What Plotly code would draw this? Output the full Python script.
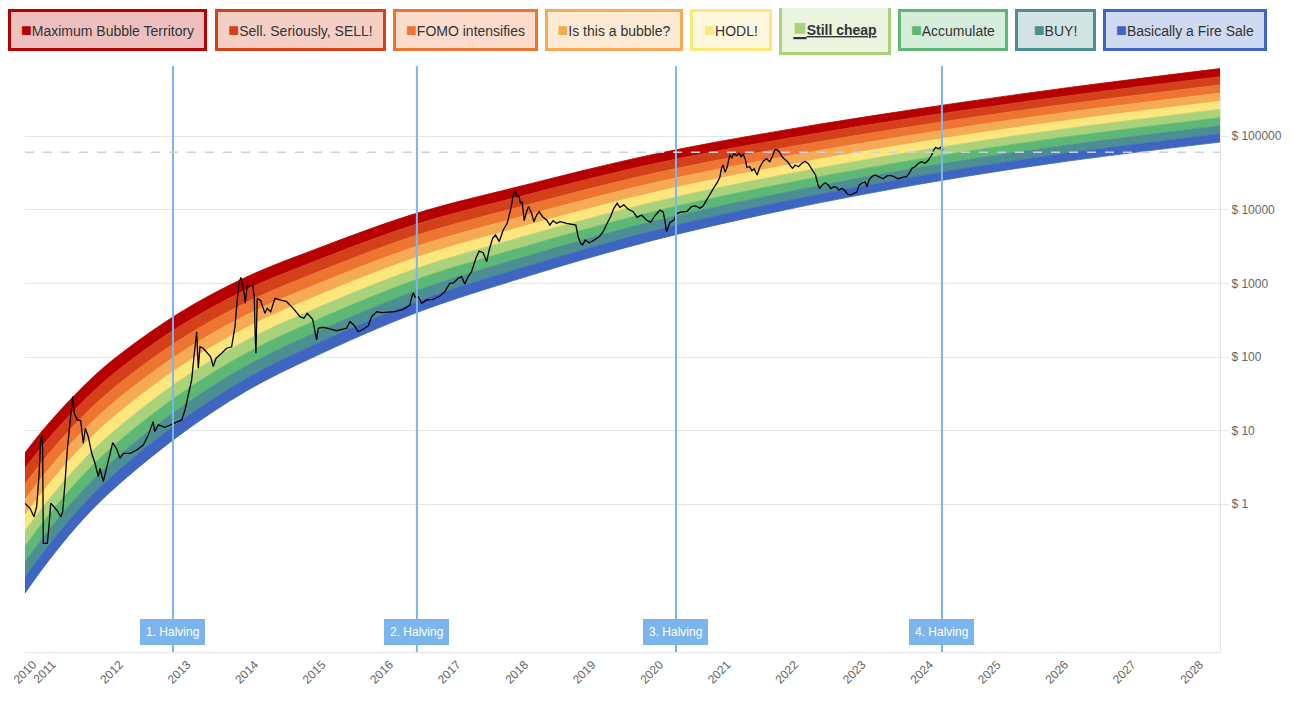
import plotly.graph_objects as go

# ---------------- data ----------------
band_years = [2010.715, 2011.0, 2011.5, 2012.0, 2013.0, 2014.0, 2015.0, 2016.5,
              2018.0, 2020.0, 2022.0, 2024.0, 2026.0, 2028.417]
band_edge_0 = [5.01, 10.7, 33.9, 89.1, 398, 1230, 2880, 8910, 20400, 56200, 123000, 240000, 437000, 832000]
band_edge_1 = [3.08, 6.64, 21.3, 56.8, 260, 828, 1990, 6310, 14800, 41700, 93100, 185000, 338000, 644000]
band_edge_2 = [1.89, 4.10, 13.4, 36.1, 170, 557, 1370, 4470, 10700, 30900, 70500, 142000, 262000, 499000]
band_edge_3 = [1.16, 2.54, 8.45, 23.0, 111, 375, 944, 3160, 7780, 23000, 53500, 109000, 203000, 386000]
band_edge_4 = [0.711, 1.57, 5.32, 14.6, 72.4, 252, 652, 2230, 5640, 17000, 40500, 84000, 157000, 299000]
band_edge_5 = [0.436, 0.973, 3.35, 9.31, 47.4, 170, 449, 1580, 4090, 12600, 30600, 64600, 122000, 232000]
band_edge_6 = [0.267, 0.603, 2.10, 5.93, 31.0, 114, 309, 1120, 2960, 9350, 23200, 49700, 94200, 179000]
band_edge_7 = [0.164, 0.373, 1.32, 3.78, 20.2, 76.7, 213, 792, 2150, 6930, 17500, 38200, 72900, 139000]
band_edge_8 = [0.101, 0.231, 0.834, 2.40, 13.2, 51.6, 147, 560, 1560, 5150, 13300, 29400, 56500, 108000]
band_edge_9 = [0.0618, 0.143, 0.525, 1.53, 8.63, 34.8, 101, 396, 1130, 3820, 10100, 22600, 43800, 83400]

band_names = ["Maximum Bubble Territory", "Sell. Seriously, SELL!", "FOMO intensifies",
              "Is this a bubble?", "HODL!", "Still cheap", "Accumulate", "BUY!",
              "Basically a Fire Sale"]
band_colors = ["#b70000", "#d3401a", "#ee7432", "#f5aa53", "#fde67c",
               "#aad27a", "#5cb874", "#4b8f93", "#3e66c0"]
band_fills = ["rgba(183,0,0,0.25)", "rgba(211,64,26,0.25)", "rgba(238,116,50,0.25)",
              "rgba(245,170,83,0.25)", "rgba(253,230,124,0.25)", "rgba(170,210,122,0.25)",
              "rgba(92,184,116,0.25)", "rgba(75,143,147,0.25)", "rgba(62,102,192,0.25)"]

price_years = [
    2010.715, 2010.789, 2010.848, 2010.888, 2010.922, 2010.948, 2010.967, 2010.977, 2010.986, 2011.045,
    2011.066, 2011.096, 2011.134, 2011.193, 2011.244, 2011.273, 2011.307, 2011.341, 2011.381, 2011.421,
    2011.445, 2011.490, 2011.540, 2011.578, 2011.608, 2011.652, 2011.703, 2011.752, 2011.801, 2011.826,
    2011.875, 2011.949, 2012.014, 2012.073, 2012.122, 2012.171, 2012.270, 2012.369, 2012.467, 2012.541,
    2012.615, 2012.636, 2012.689, 2012.788, 2012.873, 2012.962, 2013.036, 2013.085, 2013.133, 2013.184,
    2013.218, 2013.258, 2013.282, 2013.307, 2013.356, 2013.415, 2013.465, 2013.504, 2013.544, 2013.628,
    2013.702, 2013.776, 2013.825, 2013.859, 2013.889, 2013.914, 2013.958, 2013.978, 2014.007, 2014.087,
    2014.111, 2014.126, 2014.136, 2014.155, 2014.206, 2014.269, 2014.303, 2014.354, 2014.417, 2014.491,
    2014.591, 2014.689, 2014.788, 2014.847, 2014.896, 2014.976, 2015.035, 2015.059, 2015.133, 2015.232,
    2015.331, 2015.479, 2015.528, 2015.587, 2015.651, 2015.725, 2015.799, 2015.850, 2015.924, 2015.998,
    2016.081, 2016.195, 2016.318, 2016.417, 2016.446, 2016.466, 2016.495, 2016.540, 2016.590, 2016.664,
    2016.762, 2016.861, 2016.935, 2017.009, 2017.058, 2017.132, 2017.182, 2017.231, 2017.280, 2017.330,
    2017.394, 2017.443, 2017.502, 2017.553, 2017.591, 2017.642, 2017.686, 2017.739, 2017.799, 2017.858,
    2017.913, 2017.947, 2017.972, 2017.997, 2018.031, 2018.056, 2018.080, 2018.110, 2018.145, 2018.175,
    2018.219, 2018.253, 2018.293, 2018.332, 2018.382, 2018.441, 2018.490, 2018.539, 2018.589, 2018.648,
    2018.737, 2018.875, 2018.909, 2018.945, 2018.974, 2019.013, 2019.072, 2019.132, 2019.220, 2019.280,
    2019.339, 2019.389, 2019.438, 2019.487, 2019.527, 2019.586, 2019.650, 2019.724, 2019.783, 2019.848,
    2019.922, 2019.982, 2020.045, 2020.119, 2020.168, 2020.193, 2020.218, 2020.267, 2020.326, 2020.375,
    2020.440, 2020.523, 2020.588, 2020.652, 2020.712, 2020.760, 2020.811, 2020.870, 2020.919, 2020.968,
    2021.008, 2021.033, 2021.057, 2021.086, 2021.116, 2021.141, 2021.160, 2021.185, 2021.215, 2021.255,
    2021.294, 2021.323, 2021.353, 2021.388, 2021.408, 2021.452, 2021.482, 2021.516, 2021.560, 2021.600,
    2021.649, 2021.699, 2021.748, 2021.788, 2021.822, 2021.862, 2021.896, 2021.936, 2021.975, 2022.015,
    2022.055, 2022.085, 2022.123, 2022.173, 2022.222, 2022.271, 2022.321, 2022.351, 2022.389, 2022.425,
    2022.463, 2022.488, 2022.528, 2022.573, 2022.617, 2022.651, 2022.696, 2022.736, 2022.770, 2022.819,
    2022.863, 2022.898, 2022.937, 2022.988, 2023.037, 2023.071, 2023.115, 2023.160, 2023.189, 2023.219,
    2023.259, 2023.308, 2023.367, 2023.426, 2023.486, 2023.536, 2023.585, 2023.649, 2023.714, 2023.773,
    2023.812, 2023.852, 2023.900, 2023.951, 2024.000, 2024.048, 2024.099, 2024.148, 2024.177, 2024.207,
    2024.247, 2024.277, 2024.296, 2024.315]
price_usd = [
    1.03, 0.882, 0.679, 0.928, 2.37, 7.88, 8.29, 5.47, 0.295, 0.295,
    0.447, 1.03, 0.948, 0.818, 0.679, 0.793, 1.93, 5.47, 12.6, 29.0,
    17.2, 14.0, 13.7, 6.74, 10.8, 8.29, 4.93, 3.61, 2.37, 3.08,
    2.03, 4.00, 6.87, 5.64, 4.22, 4.93, 4.93, 5.47, 6.39, 8.74,
    13.3, 9.69, 12.0, 11.1, 12.0, 12.8, 14.0, 19.1, 29.0, 48.9,
    101, 221, 70.4, 138, 132, 113, 101, 74.1, 96.3, 113,
    132, 138, 259, 597, 1060, 1210, 774, 538, 925, 954,
    662, 189, 113, 629, 584, 394, 460, 414, 629, 597,
    566, 460, 354, 337, 394, 326, 171, 246, 254, 241,
    228, 246, 303, 273, 221, 239, 265, 354, 414, 401,
    410, 414, 446, 510, 662, 750, 649, 662, 538, 597,
    610, 676, 774, 1010, 1010, 1180, 1240, 985, 1240, 1450,
    2200, 2760, 2620, 1980, 2850, 4110, 4560, 3700, 5330, 6580,
    10500, 15900, 18200, 15100, 15500, 12300, 12900, 7130, 9450, 11100,
    8990, 6920, 8520, 9450, 8080, 7290, 6230, 7130, 6580, 6920,
    6580, 6230, 4320, 3520, 3340, 3900, 3580, 3820, 4320, 5060,
    6580, 8080, 10500, 12300, 10800, 11700, 10200, 9450, 7930, 8520,
    7290, 6780, 8260, 9970, 9360, 7290, 5060, 6700, 7290, 8990,
    9360, 9570, 11100, 11300, 10500, 11300, 13600, 17100, 20000, 23400,
    27700, 36700, 40700, 32400, 37900, 48700, 55700, 50200, 58700, 54500,
    58700, 52800, 57500, 47600, 37900, 38600, 34100, 36300, 29800, 37900,
    45700, 49600, 45200, 54000, 65200, 65200, 59900, 51800, 47600, 44700,
    39500, 36700, 40700, 38600, 43000, 45700, 42000, 37900, 33000, 29800,
    21800, 19700, 22000, 23400, 21600, 19400, 20700, 20300, 18600, 19700,
    18200, 16400, 15900, 16800, 17500, 21600, 23200, 23900, 20700, 25500,
    28300, 29800, 28300, 26500, 28900, 29500, 28300, 26500, 27700, 28300,
    31400, 36700, 38600, 43000, 45200, 43000, 47600, 56200, 65200, 70900,
    67800, 70900, 63700, 66600]

halving_years = [2012.907, 2016.520, 2020.358, 2024.298]
halving_labels = ["1. Halving", "2. Halving", "3. Halving", "4. Halving"]
reference_price = 60600

year_tick_values = [2010.7155, 2011, 2012, 2013, 2014, 2015, 2016, 2017, 2018, 2019,
                    2020, 2021, 2022, 2023, 2024, 2025, 2026, 2027, 2028]
year_tick_labels = ["2010", "2011", "2012", "2013", "2014", "2015", "2016", "2017", "2018", "2019",
                    "2020", "2021", "2022", "2023", "2024", "2025", "2026", "2027", "2028"]
price_tick_values = [1, 10, 100, 1000, 10000, 100000]
price_tick_labels = ["$ 1", "$ 10", "$ 100", "$ 1000", "$ 10000", "$ 100000"]

# legend box geometry (page pixels)
legend_centers = [107.5, 300.5, 465.5, 614, 731, 835, 953, 1055.5, 1185]
legend_widths = [199, 171, 145, 138, 82, 112, 110, 81, 164]

# ---------------- layout geometry ----------------
BODY = 8                      # default page margin of the html body
PAGE_L, PAGE_R, PAGE_T, PAGE_B = 25, 1220, 66, 652   # plot area on the page
W, H = 1294 - BODY, 701 - 2 * BODY
ML = PAGE_L - BODY
MT = PAGE_T - BODY
PW = PAGE_R - PAGE_L
PH = PAGE_B - PAGE_T
MR = W - ML - PW
MB = H - MT - PH
FONT = "Liberation Sans, Arial, Helvetica, sans-serif"

edges = [band_edge_0, band_edge_1, band_edge_2, band_edge_3, band_edge_4,
         band_edge_5, band_edge_6, band_edge_7, band_edge_8, band_edge_9]

fig = go.Figure()
fig.add_trace(go.Scatter(x=band_years, y=edges[9], mode="lines",
                         line=dict(width=0.8, color=band_colors[8], shape="spline"),
                         hoverinfo="skip", showlegend=False))
for k in range(8, -1, -1):
    fig.add_trace(go.Scatter(x=band_years, y=edges[k], mode="lines", fill="tonexty",
                             fillcolor=band_colors[k],
                             line=dict(width=0.8, color=band_colors[k], shape="spline"),
                             name=band_names[k], hoverinfo="skip", showlegend=False))

fig.add_trace(go.Scatter(x=price_years, y=price_usd, mode="lines",
                         line=dict(color="#000000", width=1.3),
                         name="Price", showlegend=False))

shapes = []
for hy in halving_years:
    shapes.append(dict(type="line", xref="x", yref="paper", x0=hy, x1=hy, y0=0, y1=1,
                       line=dict(color="#7cb5ec", width=2), layer="above"))
shapes.append(dict(type="line", xref="paper", yref="y", x0=0, x1=1,
                   y0=reference_price, y1=reference_price,
                   line=dict(color="#c8cfe6", width=1.5, dash="dash"), layer="above"))

annotations = []
for hy, lab in zip(halving_years, halving_labels):
    annotations.append(dict(x=hy, xref="x", y=(PAGE_B - 632) / PH, yref="paper",
                            text=lab, showarrow=False,
                            font=dict(family=FONT, size=12, color="#ffffff"),
                            bgcolor="#7cb5ec", bordercolor="#7cb5ec", borderwidth=1,
                            borderpad=5, xanchor="center", yanchor="middle"))

for i, name in enumerate(band_names):
    c = band_colors[i]
    if name == "Still cheap":
        txt = ("<u><span style='color:%s;font-size:22px'>■</span><b>%s</b></u>" % (c, name))
        cy, bh = 27.5, 55
    else:
        txt = "<span style='color:%s;font-size:18px'>■</span>%s" % (c, name)
        cy, bh = 30, 42
    annotations.append(dict(x=(legend_centers[i] - PAGE_L) / PW, xref="paper",
                            y=(PAGE_B - cy) / PH, yref="paper",
                            text=txt, showarrow=False,
                            font=dict(family=FONT, size=14, color="#333333"),
                            bgcolor=band_fills[i], bordercolor=c, borderwidth=3,
                            borderpad=0, width=legend_widths[i] - 6, height=bh - 6,
                            xanchor="center", yanchor="middle", align="center"))

fig.update_layout(
    width=W, height=H,
    margin=dict(l=ML, r=MR, t=MT, b=MB, pad=0, autoexpand=False),
    paper_bgcolor="#ffffff", plot_bgcolor="#ffffff",
    font=dict(family=FONT, color="#666666"),
    shapes=shapes, annotations=annotations,
    showlegend=False,
    xaxis=dict(type="linear", range=[2010.715, 2028.417], automargin=False,
               tickmode="array", tickvals=year_tick_values, ticktext=year_tick_labels,
               tickangle=-45, tickfont=dict(size=12, color="#666666", family=FONT),
               ticklabelshift=8, ticklabeloverflow="allow",
               showgrid=False, zeroline=False, showline=True, linecolor="#e6e6e6",
               linewidth=1, ticks=""),
    yaxis=dict(type="log", range=[-2.007, 5.955], side="right", automargin=False,
               tickmode="array", tickvals=price_tick_values, ticktext=price_tick_labels,
               tickfont=dict(size=12, color="#666666", family=FONT),
               showgrid=True, gridcolor="#e6e6e6", gridwidth=1, zeroline=False,
               showline=True, linecolor="#e6e6e6", linewidth=1,
               ticks="outside", ticklen=8, tickcolor="#e6e6e6"),
)

fig.write_html("out.html")
